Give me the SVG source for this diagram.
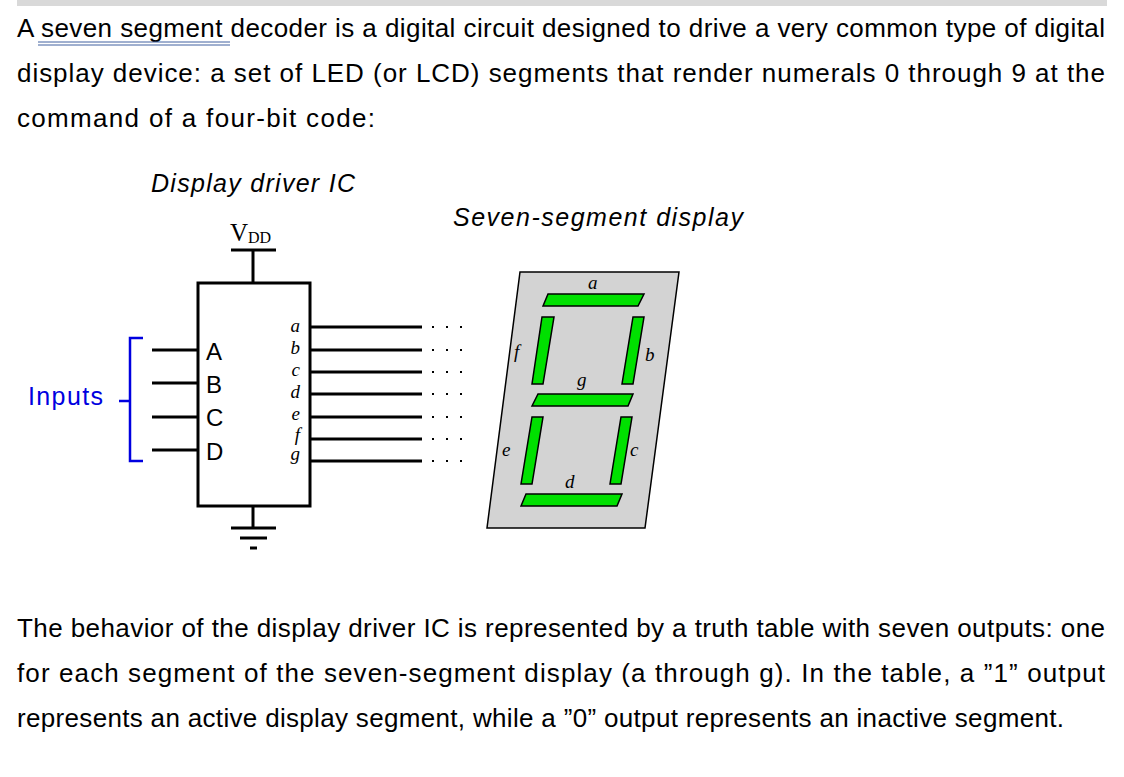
<svg xmlns="http://www.w3.org/2000/svg" width="1124" height="777" viewBox="0 0 1124 777">
<style>
.p{font-family:"Liberation Sans",Arial,sans-serif;font-size:26px;fill:#000}
.t{font-family:"Liberation Sans",Arial,sans-serif;font-size:25px;font-style:italic;fill:#000}
.s{font-family:"Liberation Serif","Times New Roman",serif;font-style:italic;font-size:19px;fill:#000}
.pin{font-family:"Liberation Sans",Arial,sans-serif;font-size:24px;fill:#000}
.w{stroke:#000;stroke-width:3;fill:none}
.seg{fill:#00e000;stroke:#000;stroke-width:1.5}
</style>
<rect width="1124" height="777" fill="#fff"/>
<rect x="17" y="0" width="1090" height="6" fill="#d9d9d9"/>
<text class="p" x="17" y="37" textLength="1088" lengthAdjust="spacing">A seven segment decoder is a digital circuit designed to drive a very common type of digital</text>
<line x1="38" y1="42" x2="230" y2="42" stroke="#4060a0" stroke-width="1"/>
<line x1="38" y1="45" x2="230" y2="45" stroke="#4060a0" stroke-width="1"/>
<text class="p" x="17" y="82" textLength="1088" lengthAdjust="spacing">display device: a set of LED (or LCD) segments that render numerals 0 through 9 at the</text>
<text class="p" x="17" y="127" textLength="358" lengthAdjust="spacing">command of a four-bit code:</text>
<text class="p" x="17" y="637" textLength="1088" lengthAdjust="spacing">The behavior of the display driver IC is represented by a truth table with seven outputs: one</text>
<text class="p" x="17" y="682" textLength="1088" lengthAdjust="spacing">for each segment of the seven-segment display (a through g). In the table, a ”1” output</text>
<text class="p" x="17" y="727" textLength="1047" lengthAdjust="spacing">represents an active display segment, while a ”0” output represents an inactive segment.</text>

<text class="t" x="151" y="192" textLength="204">Display driver IC</text>
<text class="t" x="453" y="226" textLength="290">Seven-segment display</text>

<g id="ic">
<rect x="198" y="283" width="112" height="223" class="w"/>
<text class="pin" x="206" y="360">A</text>
<text class="pin" x="206" y="393">B</text>
<text class="pin" x="206" y="426">C</text>
<text class="pin" x="206" y="460">D</text>
<g class="s" text-anchor="end">
<text x="300" y="332">a</text><text x="300" y="354">b</text><text x="300" y="376">c</text><text x="300" y="398">d</text><text x="300" y="420">e</text><text x="300" y="441">f</text><text x="300" y="460">g</text>
</g>
</g>
<g id="vdd">
<text x="230" y="241" font-family="Liberation Serif,serif" font-size="25">V<tspan font-size="16" dy="2">DD</tspan></text>
<line x1="231" y1="250" x2="276" y2="250" class="w"/>
<line x1="253" y1="250" x2="253" y2="283" class="w"/>
</g>
<g id="gnd">
<line x1="253" y1="506" x2="253" y2="528" class="w"/>
<line x1="231" y1="528" x2="276" y2="528" class="w"/>
<line x1="240" y1="538" x2="267" y2="538" class="w"/>
<line x1="250" y1="548" x2="257" y2="548" class="w"/>
</g>
<g id="inputs">
<path d="M143 338H130V461H143M130 401H119" stroke="#0000e0" stroke-width="2.5" fill="none"/>
<text x="28" y="405" font-family="Liberation Sans,Arial,sans-serif" font-size="25" fill="#0000e0" textLength="75">Inputs</text>
</g>
<g id="connectors" class="w">
<path d="M152 350H198M152 383H198M152 417H198M152 450H198"/>
<path d="M310 327H422M310 350H422M310 372H422M310 394H422M310 417H422M310 439H422M310 461H422"/>
<path d="M432 327h2M446 327h2M460 327h2M432 350h2M446 350h2M460 350h2M432 372h2M446 372h2M460 372h2M432 394h2M446 394h2M460 394h2M432 417h2M446 417h2M460 417h2M432 439h2M446 439h2M460 439h2M432 461h2M446 461h2M460 461h2" stroke-width="2"/>
</g>
<g id="display">
<polygon points="520,272 679,272 645,528 487,528" fill="#d3d3d3" stroke="#000" stroke-width="1.5"/>
<polygon class="seg" points="548,294 644,294 638,306 543,306"/>
<polygon class="seg" points="542,317 554,317 543,384 532,384"/>
<polygon class="seg" points="633,317 644,317 633,384 622,384"/>
<polygon class="seg" points="538,394 633,394 628,406 532,406"/>
<polygon class="seg" points="532,417 543,417 532,484 521,484"/>
<polygon class="seg" points="621,417 632,417 621,484 610,484"/>
<polygon class="seg" points="526,494 622,494 617,506 521,506"/>
<g class="s" font-size="22">
<text x="588" y="289">a</text><text x="514" y="358">f</text><text x="645" y="361">b</text><text x="577" y="386">g</text><text x="502" y="456">e</text><text x="630" y="456">c</text><text x="565" y="488">d</text>
</g>
</g>
</svg>
